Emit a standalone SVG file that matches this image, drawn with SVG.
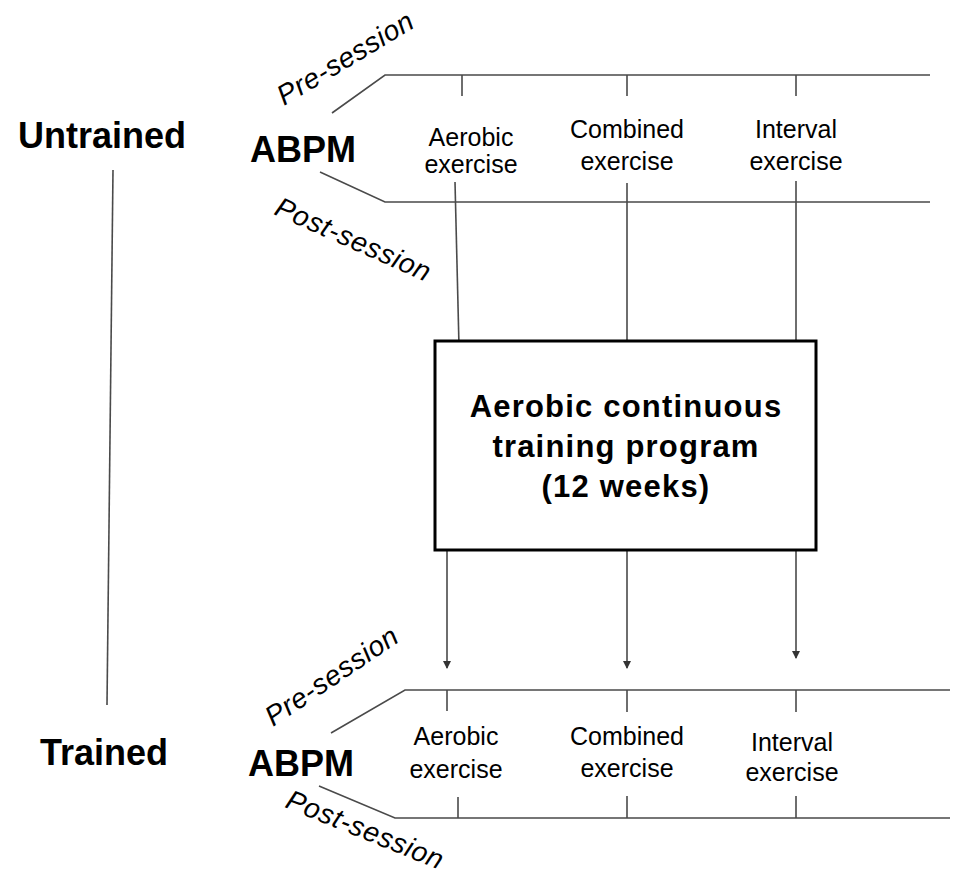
<svg xmlns="http://www.w3.org/2000/svg" width="957" height="876" viewBox="0 0 957 876">
<style>
text{font-family:"Liberation Sans",Arial,sans-serif;fill:#000}
.big{font-size:36px;font-weight:bold}
.lbl{font-size:25px;text-anchor:middle}
.sess{font-size:28px;font-style:italic;letter-spacing:0.6px}
.box{font-size:31px;font-weight:bold;text-anchor:middle;letter-spacing:1.2px}
.ln{stroke:#4a4a4a;stroke-width:1.6;fill:none}
.arr{stroke:#4a4a4a;stroke-width:1.6;fill:none;marker-end:url(#ah)}
</style>
<defs>
<marker id="ah" markerWidth="8" markerHeight="8" refX="7" refY="4" orient="auto" markerUnits="userSpaceOnUse">
<path d="M0,0 L8,4 L0,8 Z" fill="#333"/>
</marker>
</defs>
<rect width="957" height="876" fill="#fff"/>
<g id="connectors">
<line class="ln" x1="113" y1="170" x2="107" y2="705"/>
<polyline class="ln" points="332,113 385,75 930,75"/>
<polyline class="ln" points="320,172 385,202 930,202"/>
<line class="ln" x1="462" y1="75" x2="462" y2="96"/>
<line class="ln" x1="627" y1="75" x2="627" y2="96"/>
<line class="ln" x1="796" y1="75" x2="796" y2="96"/>
<line class="ln" x1="455" y1="182" x2="459" y2="346"/>
<line class="ln" x1="627" y1="183" x2="627" y2="341"/>
<line class="ln" x1="796" y1="181" x2="796" y2="341"/>
<line class="arr" x1="447" y1="551" x2="447" y2="668"/>
<line class="arr" x1="627" y1="551" x2="627" y2="668"/>
<line class="arr" x1="796" y1="551" x2="796" y2="658"/>
<polyline class="ln" points="331,733 405,690 950,690"/>
<polyline class="ln" points="319,786 395,818 950,818"/>
<line class="ln" x1="447" y1="690" x2="447" y2="711"/>
<line class="ln" x1="627" y1="690" x2="627" y2="712"/>
<line class="ln" x1="796" y1="690" x2="796" y2="712"/>
<line class="ln" x1="458" y1="797" x2="458" y2="818"/>
<line class="ln" x1="627" y1="796" x2="627" y2="818"/>
<line class="ln" x1="796" y1="796" x2="796" y2="818"/>
</g>
<g id="untrained"><text class="big" x="18" y="148">Untrained</text></g>
<g id="trained"><text class="big" x="40" y="765">Trained</text></g>
<g id="abpm-top">
<text class="big" x="250" y="162">ABPM</text>
<text class="sess" transform="translate(284,106) rotate(-31)">Pre-session</text>
<text class="sess" transform="translate(273,214) rotate(24)">Post-session</text>
</g>
<g id="abpm-bottom">
<text class="big" x="248" y="776">ABPM</text>
<text class="sess" transform="translate(273,727) rotate(-34)">Pre-session</text>
<text class="sess" transform="translate(284,807) rotate(22)">Post-session</text>
</g>
<g id="top-aerobic"><text class="lbl" x="471" y="146">Aerobic</text><text class="lbl" x="471" y="173">exercise</text></g>
<g id="top-combined"><text class="lbl" x="627" y="138">Combined</text><text class="lbl" x="627" y="170">exercise</text></g>
<g id="top-interval"><text class="lbl" x="796" y="138">Interval</text><text class="lbl" x="796" y="170">exercise</text></g>
<g id="program">
<rect x="435" y="341" width="381" height="209" fill="#fff" stroke="#000" stroke-width="3"/>
<text class="box" x="626" y="417">Aerobic continuous</text>
<text class="box" x="626" y="457">training program</text>
<text class="box" x="626" y="497">(12 weeks)</text>
</g>
<g id="bot-aerobic"><text class="lbl" x="456" y="745">Aerobic</text><text class="lbl" x="456" y="778">exercise</text></g>
<g id="bot-combined"><text class="lbl" x="627" y="745">Combined</text><text class="lbl" x="627" y="777">exercise</text></g>
<g id="bot-interval"><text class="lbl" x="792" y="751">Interval</text><text class="lbl" x="792" y="781">exercise</text></g>
</svg>
